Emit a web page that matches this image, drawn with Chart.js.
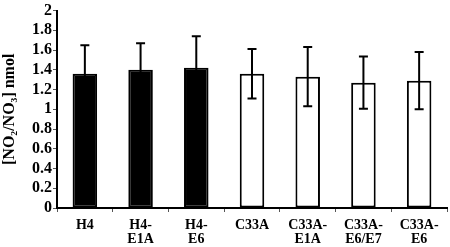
<!DOCTYPE html>
<html>
<head>
<meta charset="utf-8">
<script src="https://cdn.jsdelivr.net/npm/chart.js@4/dist/chart.umd.min.js"></script>
<style>
  html, body { margin: 0; padding: 0; background: #fff; }
  #wrap { width: 450px; height: 247px; }
</style>
</head>
<body>
<div id="wrap"><canvas id="nitriteChart" width="450" height="247"></canvas></div>
<script>
const cellLines = [['H4'], ['H4-', 'E1A'], ['H4-', 'E6'], ['C33A'], ['C33A-', 'E1A'], ['C33A-', 'E6/E7'], ['C33A-', 'E6']];
const means = [1.36, 1.40, 1.42, 1.36, 1.33, 1.27, 1.29];
const errors = [0.29, 0.27, 0.32, 0.25, 0.30, 0.265, 0.29];
const fills = ['#000', '#000', '#000', '#fff', '#fff', '#fff', '#fff'];
const yTicks = [0, 0.2, 0.4, 0.6, 0.8, 1, 1.2, 1.4, 1.6, 1.8, 2];

const serif = "'Liberation Serif', 'Times New Roman', serif";

// draws the SD whiskers using the chart's own scales
const errorBars = {
    id: 'errorBars',
    afterDatasetsDraw(chart) {
        const ctx = chart.ctx;
        const meta = chart.getDatasetMeta(0);
        const y = chart.scales.y;
        ctx.save();
        ctx.strokeStyle = '#000';
        ctx.lineWidth = 2;
        meta.data.forEach(function(bar, i) {
            const top = y.getPixelForValue(means[i] + errors[i]);
            const bot = y.getPixelForValue(means[i] - errors[i]);
            const cap = 4.5;
            ctx.beginPath();
            ctx.moveTo(bar.x, top);
            ctx.lineTo(bar.x, bot);
            ctx.moveTo(bar.x - cap, top);
            ctx.lineTo(bar.x + cap, top);
            ctx.moveTo(bar.x - cap, bot);
            ctx.lineTo(bar.x + cap, bot);
            ctx.stroke();
        });
        ctx.restore();
    }
};

new Chart(document.getElementById('nitriteChart'), {
    type: 'bar',
    data: {
        labels: cellLines,
        datasets: [{
            data: means,
            backgroundColor: fills,
            borderColor: '#000',
            borderWidth: 2,
            borderSkipped: false,
            barPercentage: 0.44,
            categoryPercentage: 1
        }]
    },
    options: {
        responsive: false,
        animation: false,
        layout: { padding: { top: 7, right: 3, left: 0, bottom: 0 } },
        plugins: {
            legend: { display: false },
            tooltip: { enabled: false }
        },
        scales: {
            x: {
                grid: { drawOnChartArea: false, drawTicks: true, tickLength: 4, color: '#555', offset: true },
                border: { display: true, color: '#000', width: 2 },
                ticks: {
                    color: '#000',
                    font: { family: serif, size: 14, weight: 'bold', lineHeight: 1.0 },
                    padding: 6,
                    maxRotation: 0,
                    autoSkip: false
                },
                afterFit: function(scale) { scale.height = 39; }
            },
            y: {
                min: 0,
                max: 2,
                afterBuildTicks: function(scale) {
                    scale.ticks = yTicks.map(function(v) { return { value: v }; });
                },
                grid: { drawOnChartArea: false, drawTicks: true, tickLength: 4, color: '#555' },
                border: { display: true, color: '#000', width: 2 },
                ticks: {
                    color: '#000',
                    autoSkip: false,
                    font: { family: serif, size: 16, weight: 'bold' },
                    padding: 1,
                    callback: function(v) { return String(Math.round(v * 10) / 10); }
                },
                title: {
                    display: true,
                    text: '[NO\u2082/NO\u2083] nmol',
                    color: '#000',
                    font: { family: serif, size: 16, weight: 'bold' },
                    padding: 0
                },
                afterFit: function(scale) { scale.width = 57; }
            }
        }
    },
    plugins: [errorBars]
});
</script>
</body>
</html>
